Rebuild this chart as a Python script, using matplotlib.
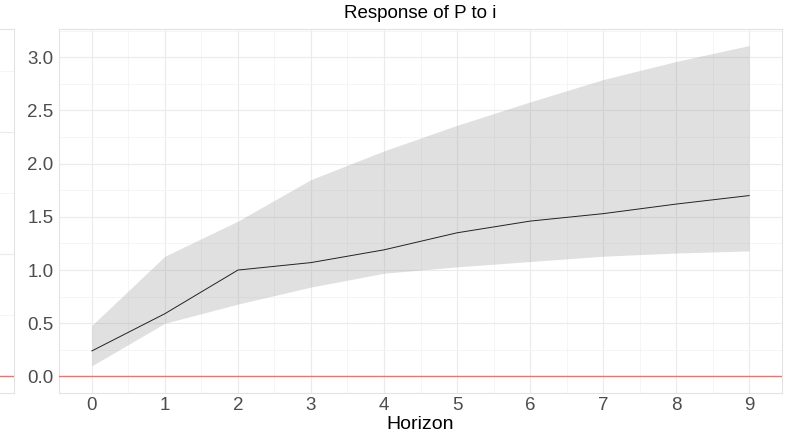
import numpy as np
import matplotlib.pyplot as plt
from matplotlib.ticker import MultipleLocator

# impulse response of P to i
horizon = [0, 1, 2, 3, 4, 5, 6, 7, 8, 9]
irf = [0.24, 0.59, 1.00, 1.07, 1.19, 1.35, 1.46, 1.53, 1.62, 1.70]
upper = [0.48, 1.13, 1.46, 1.85, 2.12, 2.36, 2.58, 2.79, 2.96, 3.11]
lower = [0.10, 0.50, 0.68, 0.84, 0.97, 1.03, 1.08, 1.13, 1.16, 1.18]
yticks = [0.0, 0.5, 1.0, 1.5, 2.0, 2.5, 3.0]
title = "Response of P to i"
xlabel = "Horizon"

plt.rcParams['font.family'] = ['Liberation Sans', 'DejaVu Sans']

W, H = 786, 436
fig = plt.figure(figsize=(W / 100, H / 100), dpi=100)

GRID_MAJOR = "#ebebeb"
GRID_MINOR = "#f4f4f4"
BORDER = "#e3e3e3"
ZERO = "#ff6b6b"


def px_axes(x0, y0, x1, y1):
    return fig.add_axes([x0 / W, 1 - y1 / H, (x1 - x0) / W, (y1 - y0) / H])


def style(ax):
    for s in ax.spines.values():
        s.set_color(BORDER)
        s.set_linewidth(0.8)
    ax.grid(which="major", color=GRID_MAJOR, lw=0.8, zorder=0)
    ax.grid(which="minor", color=GRID_MINOR, lw=0.6, zorder=0)
    ax.set_axisbelow(True)


# neighbouring panel, cut off at the left edge
axl = px_axes(-120, 29, 14, 393)
style(axl)
axl.set_ylim(-17 / 61, 347 / 61)
axl.set_xlim(0, 1)
axl.yaxis.set_major_locator(MultipleLocator(2))
axl.yaxis.set_minor_locator(MultipleLocator(1))
axl.xaxis.set_major_locator(MultipleLocator(5))
axl.axhline(0, color=ZERO, lw=1.0)
axl.tick_params(which="both", length=0, labelleft=False, labelbottom=False)

# main panel
ax = px_axes(59, 29, 782, 393)
style(ax)
ax.fill_between(horizon, lower, upper, color="#999999", alpha=0.3, lw=0, zorder=2)
ax.plot(horizon, irf, color="#222222", lw=0.7, zorder=3)
ax.axhline(0, color=ZERO, lw=1.0, zorder=3)

ymin = min(0, min(lower))
ymax = max(upper)
pad = (ymax - ymin) * 0.05
ax.set_ylim(ymin - pad, ymax + pad)
ax.set_xlim(-0.45, 9.45)
ax.set_xticks(horizon)
ax.set_yticks(yticks)
ax.set_yticklabels([f"{v:.1f}" for v in yticks])
ax.xaxis.set_minor_locator(MultipleLocator(0.5))
ax.yaxis.set_minor_locator(MultipleLocator(0.25))
ax.tick_params(which="both", length=0, labelsize=13.5, colors="#4d4d4d", pad=4)
ax.tick_params(axis="x", pad=3)

ax.set_title(title, fontsize=13.5, color="black", pad=8)
ax.set_xlabel(xlabel, fontsize=14, color="black", labelpad=1)

fig.savefig("out.png", dpi=100)
